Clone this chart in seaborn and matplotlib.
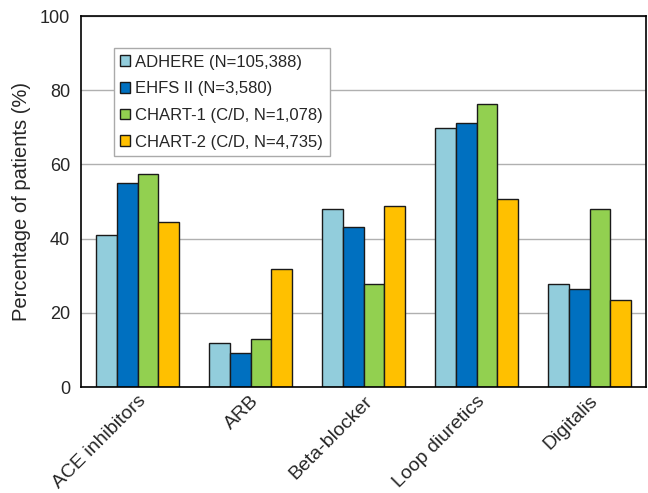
import matplotlib
matplotlib.use("Agg")
import matplotlib.pyplot as plt
import seaborn as sns
import pandas as pd
import numpy as np

categories = ["ACE inhibitors", "ARB", "Beta-blocker", "Loop diuretics", "Digitalis"]
series = ["ADHERE (N=105,388)", "EHFS II (N=3,580)", "CHART-1 (C/D, N=1,078)", "CHART-2 (C/D, N=4,735)"]
adhere = [41.0, 11.9, 47.9, 69.9, 27.9]
ehfs = [54.9, 9.2, 43.1, 71.2, 26.5]
chart1 = [57.3, 13.0, 27.8, 76.2, 48.0]
chart2 = [44.6, 31.8, 48.9, 50.8, 23.4]
colors = ["#92CDDC", "#0070C0", "#92D050", "#FFC000"]

rows = []
for s, vals in zip(series, [adhere, ehfs, chart1, chart2]):
    for c, v in zip(categories, vals):
        rows.append({"Drug": c, "Study": s, "Value": v})
df = pd.DataFrame(rows)

sns.set_theme(style="white")
plt.rcParams['font.family'] = ['Liberation Sans', 'DejaVu Sans']

fig = plt.figure(figsize=(6.48, 4.93), dpi=100)
ax = fig.add_axes([0.125, 0.215, 0.872, 0.7525])

sns.barplot(data=df, x="Drug", y="Value", hue="Study", hue_order=series,
            order=categories, palette=colors, width=0.73, edgecolor="#1a1a1a",
            linewidth=1.0, ax=ax, errorbar=None, saturation=1)

ax.set_ylim(0, 100)
ax.set_xlim(-0.5, len(categories) - 0.5)
ax.set_yticks([0, 20, 40, 60, 80, 100])
ax.yaxis.grid(True, color="#b0b0b0", linewidth=1)
ax.set_axisbelow(True)
ax.set_xlabel("")
ax.set_ylabel("Percentage of patients (%)", fontsize=14.5, labelpad=6)
ax.tick_params(axis="y", labelsize=13, length=0, pad=8)
ax.tick_params(axis="x", labelsize=14, length=0, pad=4)
ax.set_xticks(np.arange(len(categories)))
ax.set_xticklabels(categories, rotation=45, ha="right", rotation_mode="anchor")
ax.set_xticks(np.arange(len(categories) - 1) + 0.5, minor=True)
ax.tick_params(axis="x", which="minor", direction="in", length=5, color="#aaaaaa", width=1)
for sp in ax.spines.values():
    sp.set_color("black")
    sp.set_linewidth(1.2)

handles, labels = ax.get_legend_handles_labels()
leg = ax.legend(handles, labels, loc="upper left", bbox_to_anchor=(0.058, 0.914),
                fontsize=12, frameon=True, fancybox=False, edgecolor="#aaaaaa",
                framealpha=1, handlelength=0.6, handleheight=0.6, handletextpad=0.3,
                labelspacing=0.7, borderpad=0.4, borderaxespad=0)
leg.get_frame().set_linewidth(1)

fig.savefig("out.png", dpi=100)
